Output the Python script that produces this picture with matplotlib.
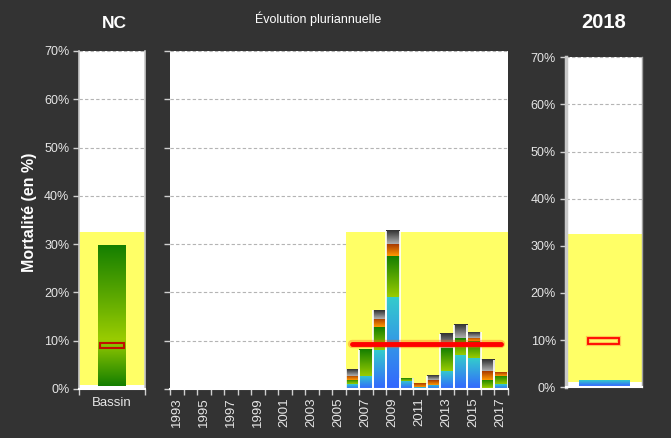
import numpy as np
import matplotlib.pyplot as plt
from matplotlib.colors import LinearSegmentedColormap
from matplotlib.patches import Rectangle

plt.rcParams['font.family'] = ['Liberation Sans', 'DejaVu Sans']

FOND = '#333333'
TEXTE = '#e6e6e6'
JAUNE = '#ffff66'
GRILLE = '#b4b4b4'

# Années de l'axe et années avec mortalité observée
annees = list(range(1993, 2018))
annees_barres = list(range(2006, 2018))

# Mortalité par classe (en %), empilée de bas en haut
part_bleu = [0.97, 2.7, 8.07, 19.1, 1.7, 0.35, 0.83, 3.73, 7.0, 6.4, 0.2, 1.0]
part_vert = [0.83, 5.4, 4.76, 8.42, 0.6, 0.0, 0.0, 4.76, 3.5, 3.45, 1.66, 1.73]
part_orange = [0.97, 0.0, 1.66, 2.48, 0.0, 0.7, 1.03, 0.0, 0.0, 0.7, 1.86, 0.76]
part_gris = [1.38, 0.0, 1.86, 2.76, 0.0, 0.0, 0.83, 2.9, 2.7, 1.24, 2.28, 0.0]
moyenne_pluri = 9.4

# Zone de référence (jaune)
zone_min, zone_max = 0.8, 32.5

# Bassin NC
bassin_min, bassin_max = 0.7, 29.8
bassin_moyenne = 9.0

# Année 2018
annee_2018_min, annee_2018_max = 0.35, 1.5
moyenne_2018 = 9.8

couleurs = [('#3366ff', '#33cccc'),   # bleu
            ('#99cc00', '#157f00'),   # vert
            ('#ff9900', '#a83a00'),   # orange
            ('#b0b0b0', '#303030')]   # gris

yticks = np.arange(0, 71, 10)
ylabels = ['%d%%' % v for v in yticks]


def degrade(ax, x0, x1, y0, y1, cols, z=2):
    cmap = LinearSegmentedColormap.from_list('g', cols)
    ax.imshow(np.linspace(0, 1, 128).reshape(-1, 1), cmap=cmap, origin='lower',
              extent=(x0, x1, y0, y1), aspect='auto', interpolation='bilinear',
              zorder=z)


def style_axe(ax):
    ax.set_facecolor('white')
    ax.set_ylim(0, 70)
    ax.set_yticks(yticks)
    ax.yaxis.grid(True, linestyle=(0, (3, 2)), color=GRILLE, linewidth=0.8)
    ax.set_axisbelow(True)
    ax.spines['top'].set_visible(False)
    ax.spines['bottom'].set_color('white')
    ax.spines['bottom'].set_linewidth(1.5)
    ax.tick_params(colors='#d0d0d0', labelcolor=TEXTE, labelsize=9,
                   length=4, width=1, pad=3)


fig = plt.figure(figsize=(6.71, 4.38), dpi=100, facecolor=FOND)

# --- Bassin ---
ax_l = fig.add_axes([0.1177, 0.1119, 0.0984, 0.7717])
style_axe(ax_l)
ax_l.set_yticklabels(ylabels)
for s in ('left', 'right'):
    ax_l.spines[s].set_color('#c8c8c8')
    ax_l.spines[s].set_linewidth(1.2)
ax_l.axhspan(zone_min, zone_max, color=JAUNE, zorder=1, lw=0)
degrade(ax_l, -0.21, 0.21, bassin_min, bassin_max,
        [(0, '#157f00'), (0.33, '#99cc00'), (1, '#157f00')])
ax_l.add_patch(Rectangle((-0.175, bassin_moyenne - 0.55), 0.35, 1.1,
                         fill=False, edgecolor='#c01000', lw=1.5, zorder=4))
ax_l.set_xlim(-0.5, 0.5)
ax_l.set_xticks([-0.5, 0.5])
ax_l.set_xticklabels([])
ax_l.set_xticks([0], minor=True)
ax_l.set_xticklabels(['Bassin'], minor=True, fontsize=9.5, color=TEXTE)
ax_l.tick_params(axis='x', which='minor', length=0, pad=6)
ax_l.set_ylim(0, 70)
ax_l.set_ylabel('Mortalité (en %)', color='white', fontsize=11.5,
                fontweight='bold')
ax_l.yaxis.set_label_coords(-0.63, 0.522)

# --- Évolution pluriannuelle ---
ax_m = fig.add_axes([0.2534, 0.1119, 0.503, 0.7717])
style_axe(ax_m)
ax_m.set_yticklabels([])
for s in ('left', 'right'):
    ax_m.spines[s].set_visible(False)
i0 = annees.index(annees_barres[0])
i1 = annees.index(annees_barres[-1])
ax_m.fill_between([i0 - 0.5, i1 + 0.5], zone_min, zone_max, color=JAUNE,
                  zorder=1, lw=0)
parts = [part_bleu, part_vert, part_orange, part_gris]
for k, an in enumerate(annees_barres):
    x = annees.index(an)
    bas = 0.0
    for serie, cols in zip(parts, couleurs):
        h = serie[k]
        if h > 0:
            degrade(ax_m, x - 0.5, x + 0.5, bas, bas + h, list(cols))
        bas += h
    ax_m.vlines([x - 0.5, x + 0.5], 0, bas, color='white', lw=1.2, zorder=3)
ax_m.plot([i0, i1], [moyenne_pluri] * 2, color='#ff5a00', lw=6, alpha=0.35,
          solid_capstyle='round', zorder=5)
ax_m.plot([i0, i1], [moyenne_pluri] * 2, color='#ff0000', lw=3.5,
          solid_capstyle='round', zorder=6)
ax_m.set_xlim(-0.5, len(annees) - 0.5)
ax_m.set_xticks(np.arange(-0.5, len(annees)))
ax_m.set_xticklabels([])
ax_m.set_xticks(np.arange(0, len(annees), 2), minor=True)
ax_m.set_xticklabels([str(a) for a in annees[::2]], minor=True, rotation=90,
                     fontsize=9.5, color=TEXTE)
ax_m.tick_params(axis='x', which='minor', length=0, pad=6)
ax_m.set_ylim(0, 70)

# --- 2018 ---
ax_r = fig.add_axes([0.8431, 0.1158, 0.1133, 0.7534])
style_axe(ax_r)
ax_r.set_yticklabels(ylabels)
ax_r.spines['left'].set_color('#c8c8c8')
ax_r.spines['left'].set_linewidth(2.5)
ax_r.spines['right'].set_color('#a0a0a0')
ax_r.spines['right'].set_linewidth(1)
ax_r.axhspan(zone_min + 0.25, zone_max, color=JAUNE, zorder=1, lw=0)
degrade(ax_r, -0.33, 0.33, annee_2018_min, annee_2018_max,
        ['#3366ff', '#33cccc'])
ax_r.add_patch(Rectangle((-0.205, moyenne_2018 - 0.55), 0.41, 1.1,
                         fill=False, edgecolor='#ff8a3a', lw=3, alpha=0.5,
                         zorder=4))
ax_r.add_patch(Rectangle((-0.205, moyenne_2018 - 0.55), 0.41, 1.1,
                         fill=False, edgecolor='#ff0000', lw=1.3, zorder=5))
ax_r.set_xlim(-0.5, 0.5)
ax_r.set_xticks([])
ax_r.set_ylim(0, 70)

fig.text(0.171, 1 - 24 / 438, 'NC', color='white', fontsize=12.5,
         fontweight='bold', ha='center', va='center')
fig.text(0.474, 1 - 19 / 438, 'Évolution pluriannuelle', color='white',
         fontsize=9, ha='center', va='center')
fig.text(0.899, 1 - 23 / 438, '2018', color='white', fontsize=14.5,
         fontweight='bold', ha='center', va='center')

fig.savefig('out.png', dpi=100, facecolor=FOND)
